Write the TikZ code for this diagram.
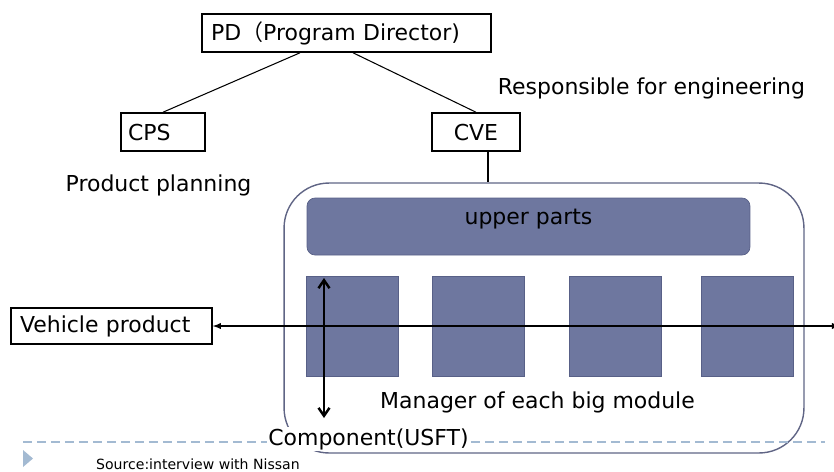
\documentclass[tikz,border=0pt]{standalone}
\usepackage{fontspec}
\usetikzlibrary{arrows.meta}
\setmainfont{DejaVu Sans}
\newfontfamily\cjk{Noto Sans CJK JP}
\definecolor{modfill}{RGB}{110,119,159}
\definecolor{moddraw}{RGB}{88,96,135}
\definecolor{framedraw}{RGB}{96,101,133}
\definecolor{dashc}{RGB}{163,186,210}

\begin{document}
\begin{tikzpicture}[x=0.02cm, y=-0.02cm, >=latex, font=\fontsize{12.5}{15}\selectfont,
    box/.style={draw, line width=0.9pt, minimum height=0.76cm, inner xsep=0.18cm, align=left},
    module/.style={draw=moddraw, fill=modfill, minimum width=1.84cm, minimum height=2cm, inner sep=0pt}]
  \useasboundingbox (0,0) rectangle (834,471);

  % organisation boxes
  \node[box, text width=5.42cm] (pd) at (346.5,33) {PD{\cjk （}Program Director)};
  \node[box, text width=1.40cm, inner xsep=0.14cm] (cps) at (163,132) {CPS};
  \node[box, text width=1.48cm, inner xsep=0.14cm, align=center] (cve) at (476,132) {CVE};
  \node[box, text width=3.66cm, minimum height=0.72cm] (vp) at (111.5,326) {Vehicle product};

  \node[anchor=base] (resp) at (651.5,94) {Responsible for engineering};
  \node[anchor=base] (plan) at (158.5,191) {Product planning};

  % module area
  \node[draw=framedraw, line width=0.8pt, rounded corners=0.9cm, minimum width=10.4cm, minimum height=5.4cm] (frame) at (544,318) {};
  \node[draw=moddraw, fill=modfill, rounded corners=0.16cm, minimum width=8.86cm, minimum height=1.14cm,
    text height=0.3cm, text depth=0.4cm] (upper) at (528.5,226.5) {upper parts};
  \foreach \x [count=\i] in {352,478,615,747}
    \node[module] (m\i) at (\x,326) {};

  \draw[line width=0.6pt] ([xshift=-0.93cm]pd.south) -- (cps.north);
  \draw[line width=0.6pt] ([xshift=0.13cm]pd.south) -- (cve.north);
  \draw[line width=0.6pt] ([xshift=0.24cm]cve.south) -- ([xshift=0.24cm]cve.south |- frame.north);

  \coordinate (edge) at (840,326);
  \draw[<->, line width=0.6pt] (vp.east) -- (edge);

  \node[anchor=base] (mgr) at (537.5,408) {Manager of each big module};

  % footer
  \draw[dashc, line width=0.6pt, dash pattern=on 0.18cm off 0.1cm] (23,442) -- (825,442);
  \fill[dashc] (23,450) -- (33,458.5) -- (23,467) -- cycle;
  \node[anchor=base, fill=white, inner sep=1pt] (comp) at (368.5,445) {Component(USFT)};
  \node[anchor=base west, font=\fontsize{8}{10}\selectfont] (src) at (90,469) {Source:interview with Nissan};

  \coordinate (ctop) at (324,278);
  \coordinate (cbot) at (324,418);
  \draw[{Straight Barb[length=0.16cm,width=0.22cm]}-{Straight Barb[length=0.16cm,width=0.22cm]}, line width=1.4pt] (ctop) -- (cbot);
\end{tikzpicture}
\end{document}
